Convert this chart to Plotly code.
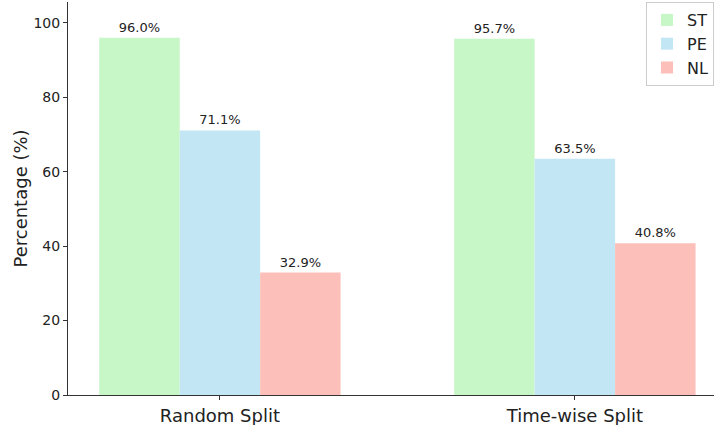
import plotly.graph_objects as go

categories = ["Random Split", "Time-wise Split"]
series_names = ["ST", "PE", "NL"]
st_values = [96.0, 95.7]
pe_values = [71.1, 63.5]
nl_values = [32.9, 40.8]
colors = ["#C7F6C7", "#C3E6F5", "#FCBFB9"]

fig = go.Figure()
for name, vals, col in zip(series_names, [st_values, pe_values, nl_values], colors):
    fig.add_trace(go.Bar(
        x=categories, y=vals, name=name, marker=dict(color=col, line=dict(width=0)),
        text=[f"{v:.1f}%" for v in vals], textposition="outside",
        textfont=dict(size=13, color="#222", family="DejaVu Sans"),
        cliponaxis=False,
    ))

fig.update_layout(
    width=715, height=425,
    margin=dict(l=68, r=1, t=2, b=30),
    paper_bgcolor="white", plot_bgcolor="white",
    barmode="group", bargap=0.32, bargroupgap=0,
    font=dict(family="DejaVu Sans", color="#222"),
    legend=dict(x=1, y=1, xanchor="right", yanchor="top",
                bgcolor="rgba(255,255,255,0.9)", bordercolor="#cccccc", borderwidth=1,
                font=dict(size=16), itemwidth=30, tracegroupgap=2),
    showlegend=True,
)
fig.update_xaxes(range=[-0.428, 1.392], showline=True, linecolor="#333", linewidth=1,
                 ticks="outside", ticklen=4, tickcolor="#333", tickfont=dict(size=18),
                 showgrid=False, automargin=False)
fig.update_yaxes(range=[0, 105.6], showline=True, linecolor="#333", linewidth=1,
                 ticks="outside", ticklen=4, tickcolor="#333", tickfont=dict(size=14),
                 tickvals=[0, 20, 40, 60, 80, 100], showgrid=False, zeroline=False,
                 automargin=False,
                 title=dict(text="Percentage (%)", font=dict(size=18), standoff=1))

fig.write_html("out.html", config={"displayModeBar": False},
               post_script="document.body.style.margin='0';document.body.style.overflow='hidden';")
